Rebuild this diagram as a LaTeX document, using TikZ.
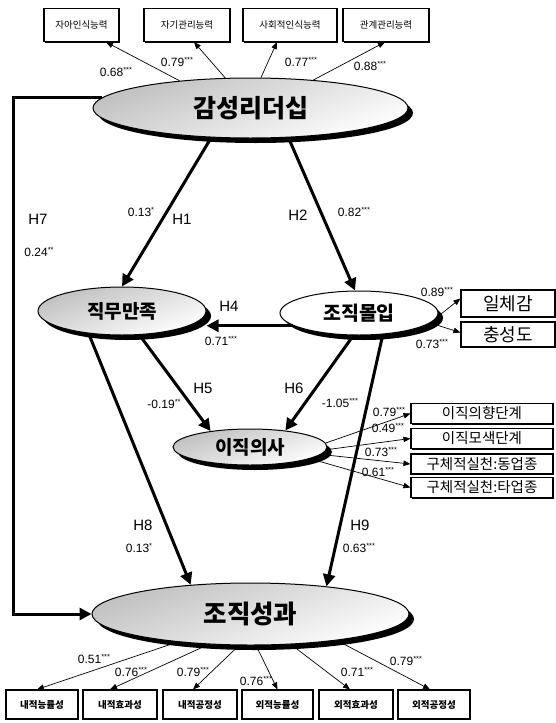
\documentclass[tikz,border=0pt]{standalone}
\usepackage{fontspec}
\setmainfont{Liberation Sans}
\newfontfamily\kr{Noto Sans CJK KR}
\usetikzlibrary{shapes.geometric,arrows.meta,shadows}
\newcommand{\sig}[1]{\raisebox{3.5pt}{\fontsize{7.5}{7.5}\selectfont #1}}
\begin{document}
\begin{tikzpicture}[x=1pt,y=-1pt,
  latent/.style={ellipse, draw=black, line width=1pt, inner sep=0pt,
    drop shadow={shadow xshift=5pt, shadow yshift=-5pt, fill=black, opacity=1}},
  grayfill/.style={top color=gray!50, bottom color=white, shading angle=20},
  obsbox/.style={draw=black, line width=1.1pt, fill=white, inner sep=0pt,
    drop shadow={shadow xshift=1.2pt, shadow yshift=-1.2pt, fill=black, opacity=1}},
  struct/.style={line width=3pt, -{Triangle[length=12pt,width=12pt]}},
  meas/.style={line width=0.7pt, -{Triangle[length=7pt,width=5.5pt]}},
  coef/.style={font=\fontsize{12}{12}\selectfont, inner sep=0pt},
  hyp/.style={font=\fontsize{15}{15}\selectfont, inner sep=0pt}]
\useasboundingbox (0,0) rectangle (556,723);
\fill[white] (0,0) rectangle (556,723);

% latent variables
\node[latent, grayfill, minimum width=315pt, minimum height=60pt,
  font=\kr\bfseries\fontsize{25}{26}\selectfont] (lead) at (250.5,108) {감성리더십};
\node[latent, grayfill, minimum width=317pt, minimum height=62pt,
  font=\kr\bfseries\fontsize{25.5}{26}\selectfont] (perf) at (250.5,614) {조직성과};
\node[latent, grayfill, minimum width=168pt, minimum height=48pt,
  font=\kr\bfseries\fontsize{19}{20}\selectfont] (js) at (122,311) {직무만족};
\node[latent, fill=white, minimum width=158pt, minimum height=44pt,
  font=\kr\bfseries\fontsize{19.5}{20}\selectfont] (oc) at (359,313) {조직몰입};
\node[latent, grayfill, minimum width=154pt, minimum height=36pt,
  font=\kr\bfseries\fontsize{19}{20}\selectfont] (ti) at (250,447) {이직의사};

% top indicators
\begin{scope}[every node/.style={obsbox, minimum height=33pt, font=\kr\fontsize{9.5}{10}\selectfont}]
\node[minimum width=75pt] (t1) at (81.5,25) {자아인식능력};
\node[minimum width=86pt] (t2) at (187,25) {자기관리능력};
\node[minimum width=94pt] (t3) at (290,25) {사회적인식능력};
\node[minimum width=86pt] (t4) at (386,25) {관계관리능력};
\end{scope}

% right indicators of 조직몰입
\begin{scope}[every node/.style={obsbox, minimum width=94pt, font=\kr\fontsize{18}{18}\selectfont}]
\node[minimum height=27pt] (ilc) at (508,303.5) {일체감};
\node[minimum height=25pt] (loy) at (508,334.5) {충성도};
\end{scope}

% right indicators of 이직의사
\begin{scope}[every node/.style={obsbox, minimum width=142pt, minimum height=20pt, font=\kr\fontsize{14.5}{15}\selectfont}]
\node (r1) at (482,413.5) {이직의향단계};
\node (r2) at (482,438.5) {이직모색단계};
\node (r3) at (482,464) {구체적실천:동업종};
\node (r4) at (482,487.5) {구체적실천:타업종};
\end{scope}

% bottom indicators
\begin{scope}[every node/.style={obsbox, minimum height=29pt, font=\kr\bfseries\fontsize{9.5}{10}\selectfont}]
\node[minimum width=72pt] (b1) at (42,704.5) {내적능률성};
\node[minimum width=74pt] (b2) at (120,704.5) {내적효과성};
\node[minimum width=74pt] (b3) at (200,704.5) {내적공정성};
\node[minimum width=71pt] (b4) at (277.5,704.5) {외적능률성};
\node[minimum width=74pt] (b5) at (356,704.5) {외적효과성};
\node[minimum width=72pt] (b6) at (434,704.5) {외적공정성};
\end{scope}

% measurement arrows
\draw[meas] (lead.159) -- ([xshift=24.5pt]t1.south);
\draw[meas] (lead.130) -- ([xshift=7pt]t2.south);
\draw[meas] (lead.71) -- ([xshift=-13pt]t3.south);
\draw[meas] (lead.24) -- ([xshift=-1pt]t4.south);
\draw[meas] (oc.357) -- ([yshift=5pt]ilc.west);
\draw[meas] (oc.352) -- ([yshift=2pt]loy.west);
\draw[meas] (ti.3) -- (r1.west);
\draw[meas] (ti.358) -- (r2.west);
\draw[meas] (ti.354) -- (r3.west);
\draw[meas] (ti.349) -- (r4.west);
\draw[meas] (perf.201) -- ([xshift=-5pt]b1.north);
\draw[meas] (perf.216) -- ([xshift=-10pt]b2.north);
\draw[meas] (perf.250) -- ([xshift=-7pt]b3.north);
\draw[meas] (perf.280) -- (b4.north);
\draw[meas] (perf.323) -- ([xshift=-6pt]b5.north);
\draw[meas] (perf.343) -- ([xshift=-4pt]b6.north);

% structural paths
\coordinate (h7x) at (13,0);
\draw[struct] (lead.217) -- (js.north);
\draw[struct] (lead.322) -- ([xshift=-4pt]oc.north);
\draw[struct] (oc.191) -- (oc.191 -| js.east);
\draw[struct] (js.306) -- (ti.158);
\draw[struct] (oc.256) -- (ti.25);
\draw[struct] (js.214) -- (perf.154);
\draw[struct] (oc.318) -- (perf.20);
\draw[struct] (lead.176) -- (lead.176 -| h7x) -- (perf.west -| h7x) -- (perf.west);

% coefficients
\node[coef] (k1) at (116,72) {0.68\sig{***}};
\node[coef] (k2) at (177,62) {0.79\sig{***}};
\node[coef] (k3) at (301,62) {0.77\sig{***}};
\node[coef] (k4) at (370,66) {0.88\sig{***}};

\node[coef] (p1) at (141,212) {0.13\sig{*}};
\node[hyp] (h1) at (182,219) {H1};
\node[hyp] (h2) at (298,215) {H2};
\node[coef] (p2) at (354,212) {0.82\sig{***}};
\node[hyp] (h7) at (38,219) {H7};
\node[coef] (p7) at (39,252) {0.24\sig{**}};

\node[hyp] (h4) at (229,306) {H4};
\node[coef] (p4) at (221,341) {0.71\sig{***}};
\node[coef] (k5) at (437,292) {0.89\sig{***}};
\node[coef] (k6) at (432,344) {0.73\sig{***}};

\node[hyp] (h5) at (203,388) {H5};
\node[coef] (p5) at (164,404) {-0.19\sig{**}};
\node[hyp] (h6) at (294,388) {H6};
\node[coef] (p6) at (340,403) {-1.05\sig{***}};

\node[coef] (k7) at (389,412) {0.79\sig{***}};
\node[coef] (k8) at (388,428) {0.49\sig{***}};
\node[coef] (k9) at (381,452) {0.73\sig{***}};
\node[coef] (k10) at (378,472) {0.61\sig{***}};

\node[hyp] (h8) at (143,525) {H8};
\node[coef] (p8) at (139,548) {0.13\sig{*}};
\node[hyp] (h9) at (360,525) {H9};
\node[coef] (p9) at (359,548) {0.63\sig{***}};

\node[coef] (m1) at (94,659) {0.51\sig{***}};
\node[coef] (m2) at (131,672) {0.76\sig{***}};
\node[coef] (m3) at (193,672) {0.79\sig{***}};
\node[coef] (m4) at (256,681) {0.76\sig{***}};
\node[coef] (m5) at (357,672) {0.71\sig{***}};
\node[coef] (m6) at (406,661) {0.79\sig{***}};
\end{tikzpicture}
\end{document}
